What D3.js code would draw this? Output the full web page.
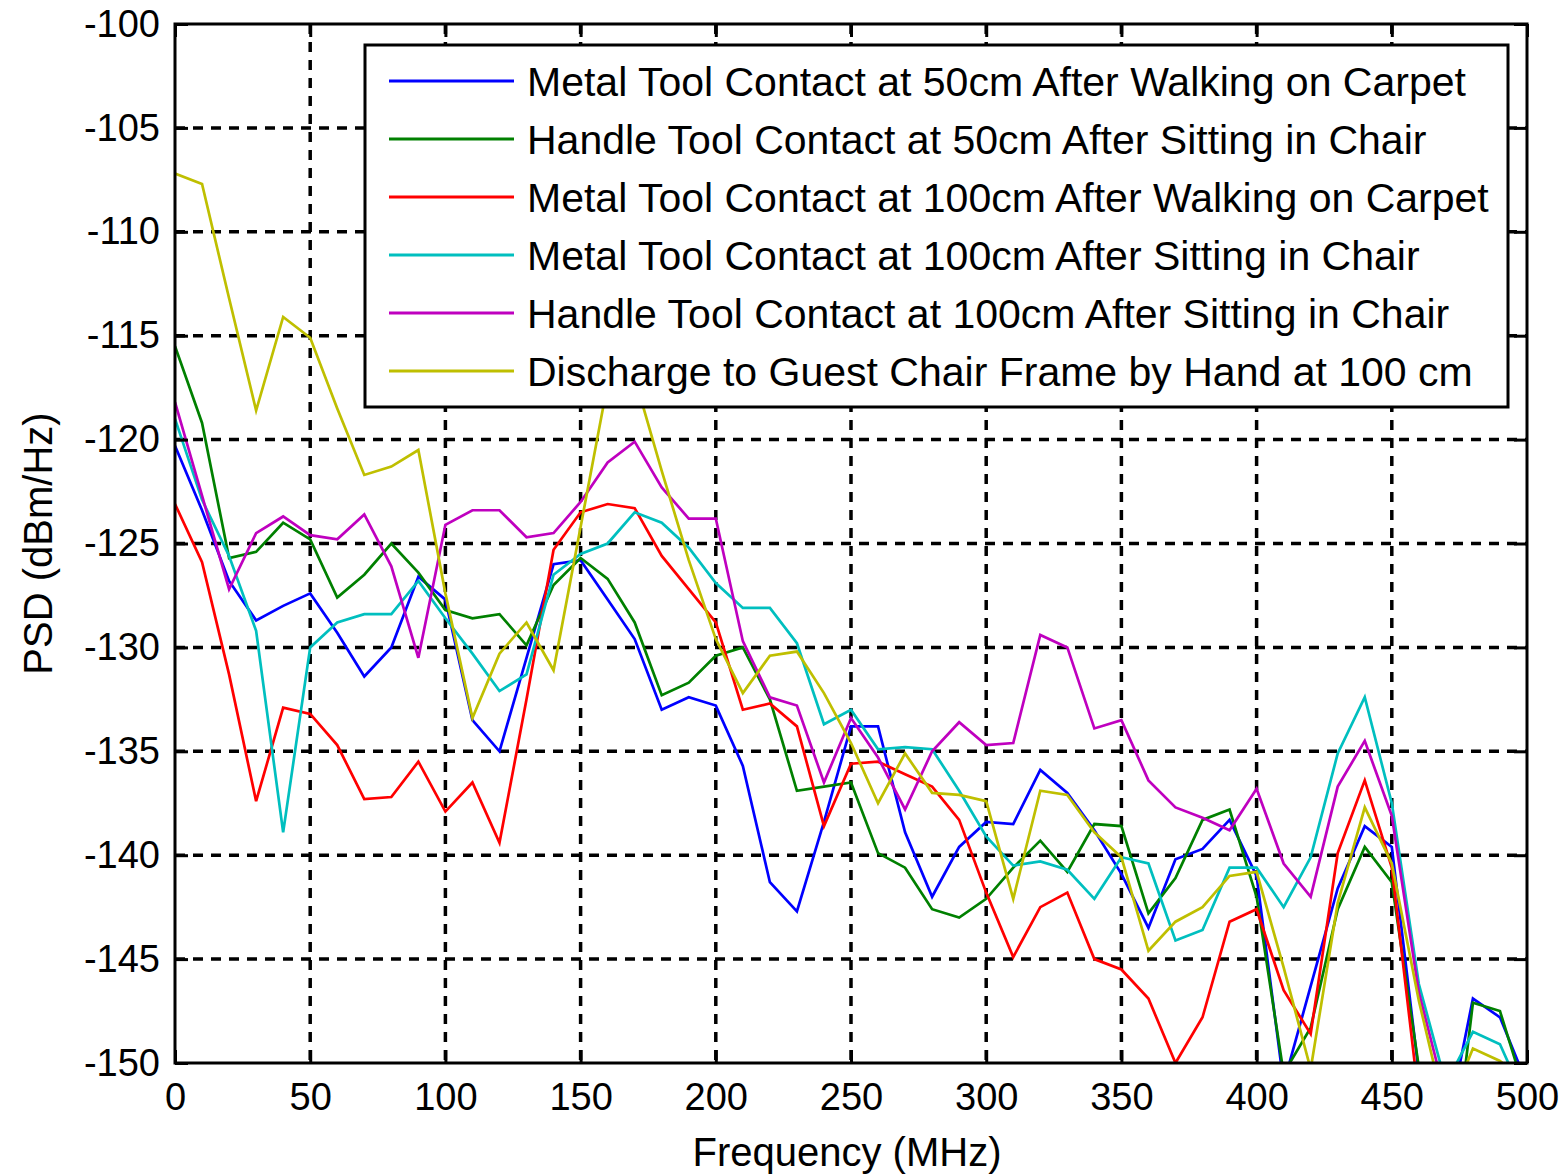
<!DOCTYPE html>
<meta charset="utf-8">
<style>
body { margin: 0; background: #fff; }
text { font-family: "Liberation Sans", Arial, sans-serif; fill: #000; }
.grid line { stroke: #000; stroke-width: 3.5; stroke-dasharray: 10 8; }
</style>
<svg width="1567" height="1174"></svg>
<script src="https://d3js.org/d3.v7.min.js"></script>
<script>

// frequency points (MHz)
var freqs = [0,10,20,30,40,50,60,70,80,90,100,110,120,130,140,150,160,170,180,190,200,
  210,220,230,240,250,260,270,280,290,300,310,320,330,340,350,360,370,380,390,400,
  410,420,430,440,450,460,470,480,490,500];

var metal50Walk = [-120.3,-123.4,-126.8,-128.7,-128.0,-127.4,-129.3,-131.4,-130.0,-126.6,-127.7,
  -133.5,-135.0,-130.5,-126.0,-125.8,-127.7,-129.6,-133.0,-132.4,-132.8,
  -135.7,-141.3,-142.7,-138.4,-133.8,-133.8,-138.9,-142.0,-139.6,-138.4,
  -138.5,-135.9,-137.0,-138.8,-140.9,-143.5,-140.2,-139.7,-138.3,-141.0,
  -151.0,-146.3,-141.6,-138.6,-139.6,-150.5,-153.4,-146.9,-147.8,-151.0];

var handle50Sit = [-115.5,-119.2,-125.7,-125.4,-124.0,-124.8,-127.6,-126.5,-125.0,-126.4,-128.2,
  -128.6,-128.4,-129.9,-127.0,-125.7,-126.7,-128.8,-132.3,-131.7,-130.4,
  -130.0,-132.5,-136.9,-136.7,-136.5,-139.9,-140.6,-142.6,-143.0,-142.1,
  -140.6,-139.3,-140.8,-138.5,-138.6,-142.8,-141.1,-138.3,-137.8,-142.0,
  -150.5,-148.3,-142.6,-139.6,-141.3,-150.2,-158.0,-147.1,-147.5,-151.7];

var metal100Walk = [-123.1,-125.9,-131.3,-137.4,-132.9,-133.2,-134.7,-137.3,-137.2,-135.5,-137.9,
  -136.5,-139.4,-132.5,-125.3,-123.5,-123.1,-123.3,-125.6,-127.2,-128.8,
  -133.0,-132.7,-133.8,-138.6,-135.6,-135.5,-136.1,-136.7,-138.3,-141.8,
  -144.9,-142.5,-141.8,-145.0,-145.5,-146.9,-150.0,-147.8,-143.2,-142.6,
  -146.5,-148.6,-139.9,-136.4,-140.6,-151.7,-156.0,-158.0,-158.0,-158.0];

var metal100Sit = [-119.0,-122.9,-125.6,-129.2,-138.9,-130.0,-128.8,-128.4,-128.4,-126.8,-128.6,
  -130.3,-132.1,-131.3,-126.5,-125.5,-125.0,-123.5,-124.0,-125.2,-126.9,
  -128.1,-128.1,-129.8,-133.7,-133.0,-134.9,-134.8,-134.9,-136.9,-139.1,
  -140.5,-140.3,-140.7,-142.1,-140.1,-140.4,-144.1,-143.6,-140.6,-140.6,
  -142.5,-140.1,-135.1,-132.4,-137.5,-146.2,-151.0,-148.5,-149.1,-152.0];

var handle100Sit = [-118.2,-122.7,-127.2,-124.5,-123.7,-124.6,-124.8,-123.6,-126.1,-130.5,-124.1,
  -123.4,-123.4,-124.7,-124.5,-123.0,-121.1,-120.1,-122.3,-123.8,-123.8,
  -129.7,-132.4,-132.8,-136.5,-133.4,-135.3,-137.8,-135.0,-133.6,-134.7,
  -134.6,-129.4,-130.0,-133.9,-133.5,-136.4,-137.7,-138.2,-138.8,-136.8,
  -140.4,-142.0,-136.7,-134.5,-138.1,-146.6,-151.7,-156.0,-156.0,-156.0];

var guestChair = [-107.2,-107.7,-113.2,-118.6,-114.1,-115.1,-118.5,-121.7,-121.3,-120.5,-127.4,
  -133.4,-130.3,-128.8,-131.1,-124.2,-117.3,-117.0,-121.5,-125.8,-129.6,
  -132.2,-130.4,-130.2,-132.2,-134.6,-137.5,-135.1,-137.0,-137.1,-137.4,
  -142.1,-136.9,-137.1,-138.9,-140.1,-144.6,-143.2,-142.5,-141.0,-140.8,
  -145.4,-150.3,-142.3,-137.7,-140.4,-147.0,-152.5,-149.3,-149.9,-151.0];

var seriesNames = [
  "Metal Tool Contact at 50cm After Walking on Carpet",
  "Handle Tool Contact at 50cm After Sitting in Chair",
  "Metal Tool Contact at 100cm After Walking on Carpet",
  "Metal Tool Contact at 100cm After Sitting in Chair",
  "Handle Tool Contact at 100cm After Sitting in Chair",
  "Discharge to Guest Chair Frame by Hand at 100 cm"
];
var seriesColors = ["#0000ff", "#008000", "#ff0000", "#00bfbf", "#bf00bf", "#bfbf00"];
var seriesValues = [metal50Walk, handle50Sit, metal100Walk, metal100Sit, handle100Sit, guestChair];

var xTicks = [0,50,100,150,200,250,300,350,400,450,500];
var yTicks = [-100,-105,-110,-115,-120,-125,-130,-135,-140,-145,-150];

var svg = d3.select("svg");
// plot box (note: "top" is reserved on window, so use p* names)
var pLeft = 175, pRight = 1527, pTop = 24, pBottom = 1063;

var x = d3.scaleLinear().domain([0, 500]).range([pLeft, pRight]);
var y = d3.scaleLinear().domain([-150, -100]).range([pBottom, pTop]);

svg.append("defs").append("clipPath").attr("id", "plotclip")
  .append("rect")
    .attr("x", pLeft).attr("y", pTop)
    .attr("width", pRight - pLeft).attr("height", pBottom - pTop);

// grid
var grid = svg.append("g").attr("class", "grid");
grid.selectAll(".gx").data(xTicks.slice(1, -1)).enter().append("line")
    .attr("x1", d => x(d)).attr("x2", d => x(d))
    .attr("y1", pTop).attr("y2", pBottom);
grid.selectAll(".gy").data(yTicks.slice(1, -1)).enter().append("line")
    .attr("x1", pLeft).attr("x2", pRight)
    .attr("y1", d => y(d)).attr("y2", d => y(d));

// data lines
var line = d3.line()
    .x((d, i) => x(freqs[i]))
    .y(d => y(d));

svg.append("g").attr("clip-path", "url(#plotclip)")
  .selectAll("path").data(seriesValues).enter().append("path")
    .attr("d", line)
    .attr("fill", "none")
    .attr("stroke", (d, i) => seriesColors[i])
    .attr("stroke-width", 2.7);

// axes, ticks inward; plain hyphen for negatives like the original
var plain = d => String(d);
var xAxis = svg.append("g").attr("transform", "translate(0," + pBottom + ")")
    .call(d3.axisBottom(x).tickValues(xTicks).tickFormat(plain).tickSize(-13).tickSizeOuter(0).tickPadding(20));
var yAxis = svg.append("g").attr("transform", "translate(" + pLeft + ",0)")
    .call(d3.axisLeft(y).tickValues(yTicks).tickFormat(plain).tickSize(-13).tickSizeOuter(0).tickPadding(15));
var xTop = svg.append("g").attr("transform", "translate(0," + pTop + ")")
    .call(d3.axisTop(x).tickValues(xTicks).tickSize(-13).tickSizeOuter(0).tickFormat(""));
var yRight = svg.append("g").attr("transform", "translate(" + pRight + ",0)")
    .call(d3.axisRight(y).tickValues(yTicks).tickSize(-13).tickSizeOuter(0).tickFormat(""));

[xAxis, yAxis, xTop, yRight].forEach(function(a) {
  a.select(".domain").remove();
  a.selectAll(".tick line").attr("stroke", "#000").attr("stroke-width", 3);
  a.selectAll(".tick text").attr("fill", "#000").style("font-size", "38px")
    .style("font-family", "'Liberation Sans', Arial, sans-serif");
});

svg.append("rect")
    .attr("x", pLeft).attr("y", pTop)
    .attr("width", pRight - pLeft).attr("height", pBottom - pTop)
    .attr("fill", "none").attr("stroke", "#000").attr("stroke-width", 3);

// axis labels
svg.append("text")
    .attr("x", (pLeft + pRight) / 2 - 4).attr("y", 1166)
    .attr("text-anchor", "middle")
    .style("font-size", "40px")
    .text("Frequency (MHz)");

svg.append("text")
    .attr("transform", "translate(52," + ((pTop + pBottom) / 2) + ") rotate(-90)")
    .attr("text-anchor", "middle")
    .style("font-size", "40px")
    .text("PSD (dBm/Hz)");

// legend
var legend = svg.append("g");
legend.append("rect")
    .attr("x", 365).attr("y", 45)
    .attr("width", 1143).attr("height", 362)
    .attr("fill", "#fff").attr("stroke", "#000").attr("stroke-width", 3);

var rows = legend.selectAll(".row").data(seriesNames).enter().append("g")
    .attr("transform", (d, i) => "translate(0," + (81 + i * 58) + ")");
rows.append("line")
    .attr("x1", 389).attr("x2", 514)
    .attr("stroke", (d, i) => seriesColors[i])
    .attr("stroke-width", 3);
rows.append("text")
    .attr("x", 527).attr("y", 15)
    .style("font-size", "41px")
    .text(d => d);

</script>
